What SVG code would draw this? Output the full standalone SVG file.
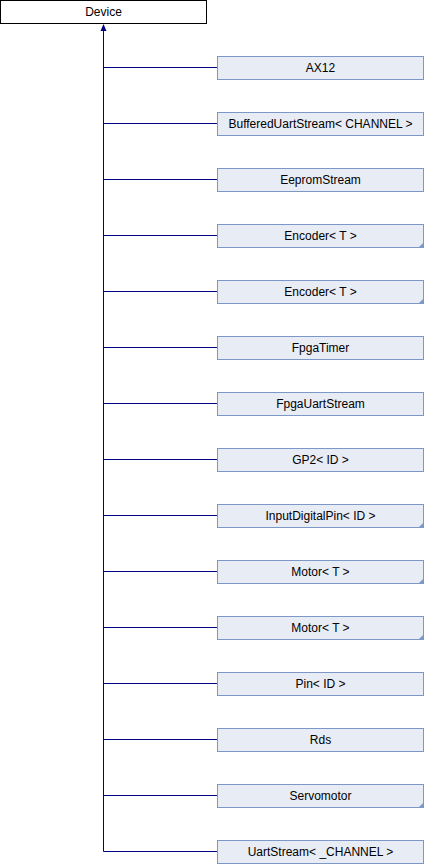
<svg xmlns="http://www.w3.org/2000/svg" width="424" height="864" viewBox="0 0 424 864">
<style>
.root{fill:#ffffff;stroke:#000000;stroke-width:1}
.box{fill:#e8ecf5;stroke:#7d97c9;stroke-width:1}
.tri{fill:#7d97c9}
.lbl{font-family:"Liberation Sans",Arial,sans-serif;font-size:12px;fill:#000000;text-anchor:middle;dominant-baseline:central}
.edge{stroke:#000080;stroke-width:1;fill:none}
</style>
<g id="connectors">
<path class="edge" d="M103.5,30 V851.5"/>
<polygon points="103.5,24 100.5,31 106.5,31" fill="#000080"/>
<path class="edge" d="M103.5,67.5 H217.5 M103.5,123.5 H217.5 M103.5,179.5 H217.5 M103.5,235.5 H217.5 M103.5,291.5 H217.5 M103.5,347.5 H217.5 M103.5,403.5 H217.5 M103.5,459.5 H217.5 M103.5,515.5 H217.5 M103.5,571.5 H217.5 M103.5,627.5 H217.5 M103.5,683.5 H217.5 M103.5,739.5 H217.5 M103.5,795.5 H217.5 M103.5,851.5 H217.5"/>
</g>
<g id="Device"><rect class="root" x="0.5" y="0.5" width="206" height="23"/><text class="lbl" x="103.5" y="12">Device</text></g>
<g id="AX12"><rect class="box" x="217.5" y="56.5" width="206" height="23"/><text class="lbl" x="320.5" y="68">AX12</text></g>
<g id="BufferedUartStream"><rect class="box" x="217.5" y="112.5" width="206" height="23"/><text class="lbl" x="320.5" y="124">BufferedUartStream&lt; CHANNEL &gt;</text></g>
<g id="EepromStream"><rect class="box" x="217.5" y="168.5" width="206" height="23"/><text class="lbl" x="320.5" y="180">EepromStream</text></g>
<g id="Encoder1"><rect class="box" x="217.5" y="224.5" width="206" height="23"/><polygon class="tri" points="424,242 424,248 418,248"/><text class="lbl" x="320.5" y="236">Encoder&lt; T &gt;</text></g>
<g id="Encoder2"><rect class="box" x="217.5" y="280.5" width="206" height="23"/><polygon class="tri" points="424,298 424,304 418,304"/><text class="lbl" x="320.5" y="292">Encoder&lt; T &gt;</text></g>
<g id="FpgaTimer"><rect class="box" x="217.5" y="336.5" width="206" height="23"/><text class="lbl" x="320.5" y="348">FpgaTimer</text></g>
<g id="FpgaUartStream"><rect class="box" x="217.5" y="392.5" width="206" height="23"/><text class="lbl" x="320.5" y="404">FpgaUartStream</text></g>
<g id="GP2"><rect class="box" x="217.5" y="448.5" width="206" height="23"/><text class="lbl" x="320.5" y="460">GP2&lt; ID &gt;</text></g>
<g id="InputDigitalPin"><rect class="box" x="217.5" y="504.5" width="206" height="23"/><polygon class="tri" points="424,522 424,528 418,528"/><text class="lbl" x="320.5" y="516">InputDigitalPin&lt; ID &gt;</text></g>
<g id="Motor1"><rect class="box" x="217.5" y="560.5" width="206" height="23"/><polygon class="tri" points="424,578 424,584 418,584"/><text class="lbl" x="320.5" y="572">Motor&lt; T &gt;</text></g>
<g id="Motor2"><rect class="box" x="217.5" y="616.5" width="206" height="23"/><polygon class="tri" points="424,634 424,640 418,640"/><text class="lbl" x="320.5" y="628">Motor&lt; T &gt;</text></g>
<g id="Pin"><rect class="box" x="217.5" y="672.5" width="206" height="23"/><text class="lbl" x="320.5" y="684">Pin&lt; ID &gt;</text></g>
<g id="Rds"><rect class="box" x="217.5" y="728.5" width="206" height="23"/><text class="lbl" x="320.5" y="740">Rds</text></g>
<g id="Servomotor"><rect class="box" x="217.5" y="784.5" width="206" height="23"/><polygon class="tri" points="424,802 424,808 418,808"/><text class="lbl" x="320.5" y="796">Servomotor</text></g>
<g id="UartStream"><rect class="box" x="217.5" y="840.5" width="206" height="23"/><text class="lbl" x="320.5" y="852">UartStream&lt; _CHANNEL &gt;</text></g>
</svg>
